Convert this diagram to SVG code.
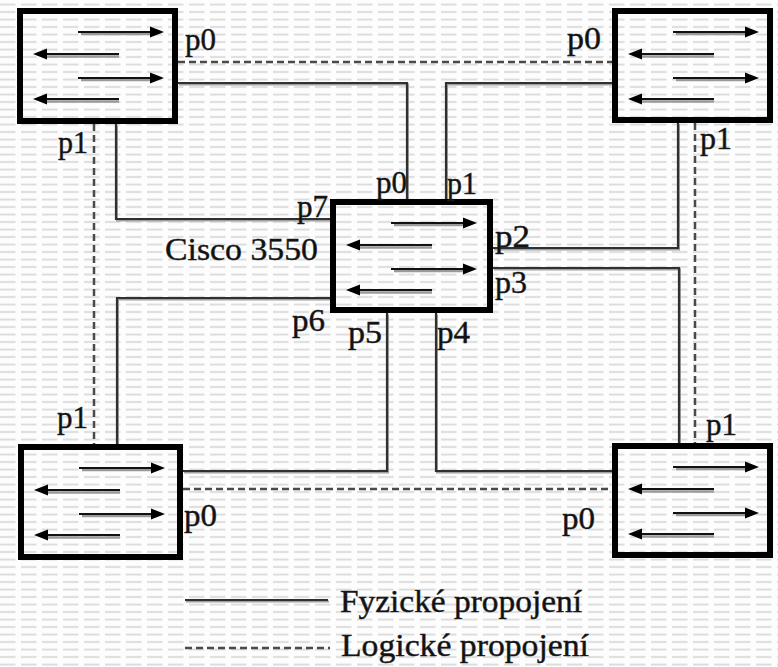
<svg xmlns="http://www.w3.org/2000/svg" xmlns:xlink="http://www.w3.org/1999/xlink" width="778" height="667" viewBox="0 0 778 667" font-family="'Liberation Serif', 'Times New Roman', Times, 'DejaVu Serif', serif">
  <defs>
    <style>
      .box { fill: none; stroke: #000; stroke-width: 6; }
      .phys { fill: none; stroke: #303030; stroke-width: 2.2; }
      .phys-sh { fill: none; stroke: #a0a0a0; stroke-width: 2; }
      .logic { fill: none; stroke: #4a4a4a; stroke-width: 2.5; stroke-dasharray: 7 4; }
      text { fill: #111; stroke: #222; stroke-width: 0.45; }
      .lbl { font-size: 31px; }
      .name { font-size: 32px; }
      .legend { font-size: 31px; }
      .arr { stroke: #111; stroke-width: 2; }
      .arr-sh { stroke: #9a9a9a; stroke-width: 2.5; }
      .head { fill: #000; }
    </style>
    <!-- striped paper background -->
    <pattern id="stripes" patternUnits="userSpaceOnUse" x="0" y="0" width="21" height="7.5">
      <rect x="0" y="3.6" width="15.5" height="1.8" fill="#d9d9d9"/>
    </pattern>
    <!-- four traffic arrows shown inside every switch, relative to the box corner -->
    <g id="traffic">
      <line class="arr-sh" x1="64" y1="26" x2="136" y2="26"/>
      <line class="arr" x1="61" y1="24" x2="136" y2="24"/>
      <polygon class="head" points="147,24 133,18.5 133,29.5"/>
      <line class="arr-sh" x1="30" y1="48.5" x2="102" y2="48.5"/>
      <line class="arr" x1="27" y1="46" x2="102" y2="46"/>
      <polygon class="head" points="16,46 30,40.5 30,51.5"/>
      <line class="arr-sh" x1="64" y1="72" x2="136" y2="72"/>
      <line class="arr" x1="61" y1="70" x2="136" y2="70"/>
      <polygon class="head" points="147,70 133,64.5 133,75.5"/>
      <line class="arr-sh" x1="30" y1="93.5" x2="102" y2="93.5"/>
      <line class="arr" x1="27" y1="91" x2="102" y2="91"/>
      <polygon class="head" points="16,91 30,85.5 30,96.5"/>
    </g>
  </defs>

  <rect width="778" height="667" fill="#fdfdfd"/>
  <rect width="778" height="667" fill="url(#stripes)"/>

  <!-- connectors: physical (solid) and logical (dashed) links -->
  <g id="connectors">
    <g transform="translate(1,1.5)">
      <path class="phys-sh" d="M178,83 H407 V199"/>
      <path class="phys-sh" d="M612,83 H446 V199"/>
      <path class="phys-sh" d="M116,124 V219 H330"/>
      <path class="phys-sh" d="M678,123 V248 H493"/>
      <path class="phys-sh" d="M493,268 H679 V443"/>
      <path class="phys-sh" d="M117,444 V298 H330"/>
      <path class="phys-sh" d="M183,471 H387 V313"/>
      <path class="phys-sh" d="M612,471 H436 V313"/>
      <path class="phys-sh" d="M185,600 H328"/>
    </g>
    <path class="phys" d="M178,83 H407 V199"/>
    <path class="phys" d="M612,83 H446 V199"/>
    <path class="phys" d="M116,124 V219 H330"/>
    <path class="phys" d="M678,123 V248 H493"/>
    <path class="phys" d="M493,268 H679 V443"/>
    <path class="phys" d="M117,444 V298 H330"/>
    <path class="phys" d="M183,471 H387 V313"/>
    <path class="phys" d="M612,471 H436 V313"/>
    <path class="logic" d="M178,62 H612"/>
    <path class="logic" d="M94,124 V444"/>
    <path class="logic" d="M695,123 V443"/>
    <path class="logic" d="M183,489 H612"/>
    <!-- legend strokes -->
    <path class="phys" d="M185,600 H328"/>
    <path class="logic" d="M185,648 H330"/>
  </g>

  <g id="switch-top-left">
    <rect class="box" x="20" y="11" width="155" height="110"/>
    <use xlink:href="#traffic" transform="translate(17,8)"/>
    <text class="lbl" x="185" y="50" textLength="31" lengthAdjust="spacingAndGlyphs">p0</text>
    <text class="lbl" x="58" y="153" textLength="30" lengthAdjust="spacingAndGlyphs">p1</text>
  </g>

  <g id="switch-top-right">
    <rect class="box" x="615" y="11" width="155" height="109"/>
    <use xlink:href="#traffic" transform="translate(612,8)"/>
    <text class="lbl" x="567" y="49" textLength="34" lengthAdjust="spacingAndGlyphs">p0</text>
    <text class="lbl" x="700" y="149" textLength="32" lengthAdjust="spacingAndGlyphs">p1</text>
  </g>

  <g id="cisco-3550">
    <rect class="box" x="333" y="202" width="157" height="108"/>
    <use xlink:href="#traffic" transform="translate(330,199)"/>
    <text class="name" x="165" y="260" textLength="153" lengthAdjust="spacingAndGlyphs">Cisco 3550</text>
    <text class="lbl" x="376" y="193" textLength="31" lengthAdjust="spacingAndGlyphs">p0</text>
    <text class="lbl" x="447" y="194" textLength="30" lengthAdjust="spacingAndGlyphs">p1</text>
    <text class="lbl" x="495" y="247" textLength="35" lengthAdjust="spacingAndGlyphs">p2</text>
    <text class="lbl" x="495" y="293" textLength="32" lengthAdjust="spacingAndGlyphs">p3</text>
    <text class="lbl" x="437" y="343" textLength="33" lengthAdjust="spacingAndGlyphs">p4</text>
    <text class="lbl" x="348" y="343" textLength="34" lengthAdjust="spacingAndGlyphs">p5</text>
    <text class="lbl" x="292" y="331" textLength="33" lengthAdjust="spacingAndGlyphs">p6</text>
    <text class="lbl" x="297" y="217" textLength="31" lengthAdjust="spacingAndGlyphs">p7</text>
  </g>

  <g id="switch-bottom-left">
    <rect class="box" x="21" y="447" width="159" height="110"/>
    <use xlink:href="#traffic" transform="translate(18,444)"/>
    <text class="lbl" x="57" y="428" textLength="31" lengthAdjust="spacingAndGlyphs">p1</text>
    <text class="lbl" x="184" y="526" textLength="33" lengthAdjust="spacingAndGlyphs">p0</text>
  </g>

  <g id="switch-bottom-right">
    <rect class="box" x="615" y="446" width="155" height="109"/>
    <use xlink:href="#traffic" transform="translate(612,443)"/>
    <text class="lbl" x="706" y="435" textLength="31" lengthAdjust="spacingAndGlyphs">p1</text>
    <text class="lbl" x="562" y="529" textLength="33" lengthAdjust="spacingAndGlyphs">p0</text>
  </g>

  <g id="legend">
    <text class="legend" x="340" y="612" textLength="242" lengthAdjust="spacingAndGlyphs">Fyzické propojení</text>
    <text class="legend" x="341" y="656" textLength="248" lengthAdjust="spacingAndGlyphs">Logické propojení</text>
  </g>
</svg>
